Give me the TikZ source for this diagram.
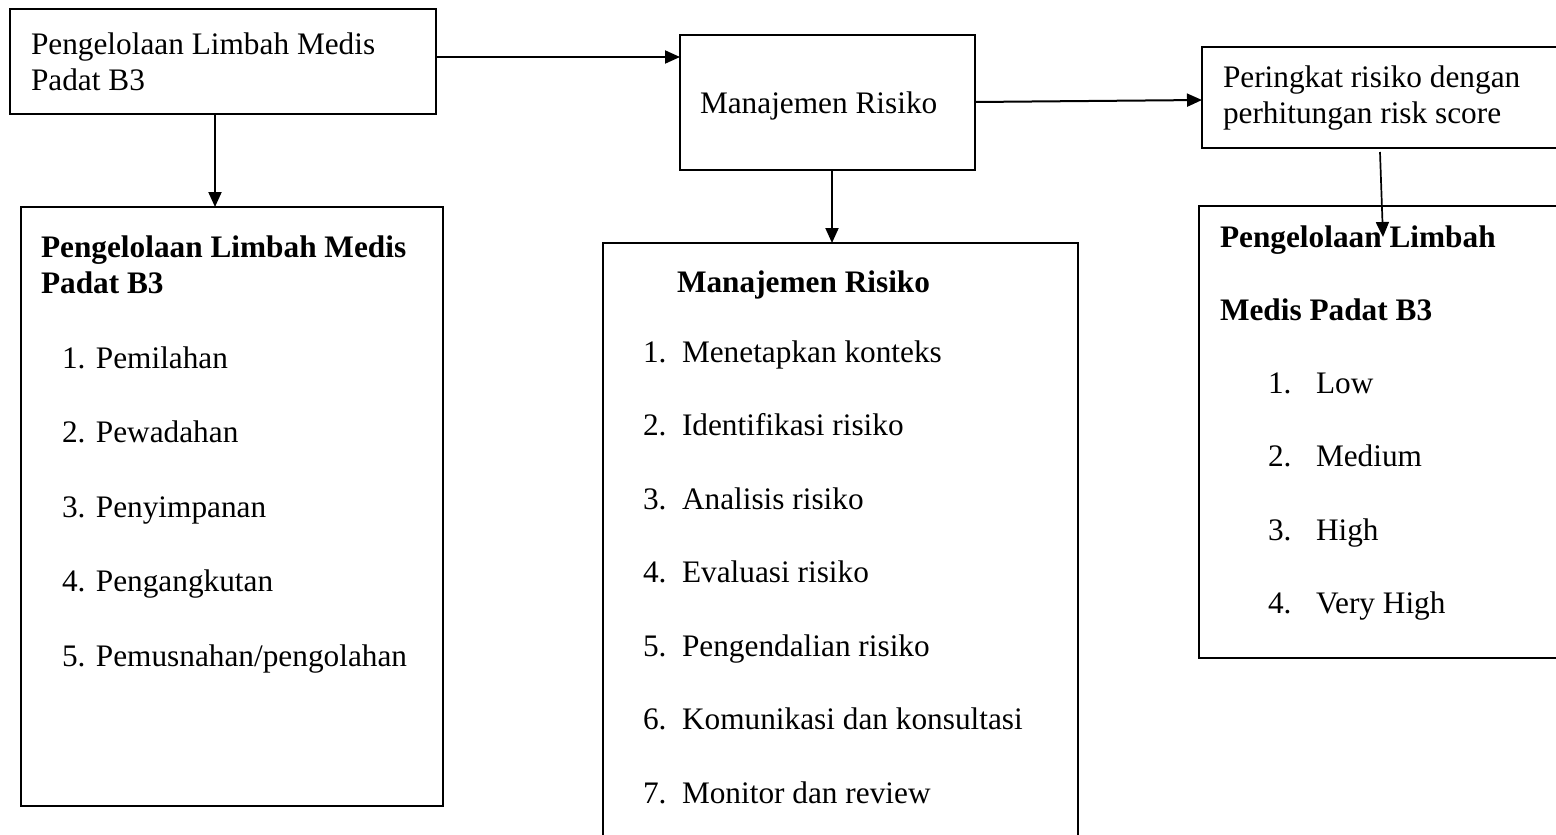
\documentclass[tikz,border=0pt]{standalone}
\usepackage{fontspec}
\setmainfont{Liberation Serif}
\usetikzlibrary{arrows.meta}
\tikzset{
  box/.style={draw=black, line width=2.2pt, fill=none, inner sep=0pt, outer sep=0pt, anchor=north west},
  txt/.style={inner sep=0pt, outer sep=0pt, anchor=base west, font=\fontsize{31.3pt}{36pt}\selectfont},
  btxt/.style={txt, font=\fontsize{31.3pt}{36pt}\selectfont\bfseries},
  arr/.style={line width=2pt, -{Triangle[length=15pt,width=13pt]}}
}
\begin{document}
\begin{tikzpicture}[x=1pt,y=-1pt]
\clip (0,0) rectangle (1556,835);
\fill[white] (0,0) rectangle (1556,835);
% boxes
\node[box, minimum width=426pt, minimum height=105pt] (A) at (10,9) {};
\node[box, minimum width=295pt, minimum height=135pt] (B) at (680,35) {};
\node[box, minimum width=380pt, minimum height=101pt] (C) at (1202,47) {};
\node[box, line width=2.6pt, minimum width=422pt, minimum height=599pt] (D) at (21,207) {};
\node[box, minimum width=475pt, minimum height=620pt] (E) at (603,243) {};
\node[box, minimum width=380pt, minimum height=452pt] (F) at (1199,206) {};
% texts box A
\node[txt] (a1) at (31,54) {Pengelolaan Limbah Medis};
\node[txt] (a2) at (31,90) {Padat B3};
% box B
\node[txt] (b1) at (700,113) {Manajemen Risiko};
% box C
\node[txt] (c1) at (1223,87) {Peringkat risiko dengan};
\node[txt] (c2) at (1223,123) {perhitungan risk score};
% box D
\node[btxt] (d0) at (41,257) {Pengelolaan Limbah Medis};
\node[btxt] (d00) at (41,293) {Padat B3};
\node[txt] (d1) at (62,368) {1. Pemilahan};
\node[txt] (d2) at (62,442.5) {2. Pewadahan};
\node[txt] (d3) at (62,517) {3. Penyimpanan};
\node[txt] (d4) at (62,591.5) {4. Pengangkutan};
\node[txt] (d5) at (62,666) {5. Pemusnahan/pengolahan};
% box E
\node[btxt] (e0) at (677,292) {Manajemen Risiko};
\foreach \n/\t [count=\i from 0] in {1/Menetapkan konteks,2/Identifikasi risiko,3/Analisis risiko,4/Evaluasi risiko,5/Pengendalian risiko,6/Komunikasi dan konsultasi,7/Monitor dan review}{
  \node[txt] (en\n) at (643,362+73.5*\i) {\n.};
  \node[txt] (et\n) at (682,362+73.5*\i) {\t};
}
% box F
\node[btxt] (f0) at (1220,247) {Pengelolaan Limbah};
\node[btxt] (f00) at (1220,320) {Medis Padat B3};
\foreach \n/\t [count=\i from 0] in {1/Low,2/Medium,3/High,4/Very High}{
  \node[txt] (fn\n) at (1268,393+73.5*\i) {\n.};
  \node[txt] (ft\n) at (1316,393+73.5*\i) {\t};
}
% connectors
\coordinate (xAD) at (215,0);
\coordinate (yAB) at (0,57);
\coordinate (xBE) at (832,0);
\coordinate (cfStart) at (1380,152);
\coordinate (cfEnd) at (1383,237);
\draw[arr] (A.south -| xAD) -- (D.north -| xAD);
\draw[arr] (A.east |- yAB) -- (B.west |- yAB);
\draw[arr] (B.east |- 0,102) -- (C.west |- 0,100);
\draw[arr] (B.south -| xBE) -- (E.north -| xBE);
\draw[arr, line width=1.7pt] (cfStart) -- (cfEnd);
\end{tikzpicture}
\end{document}
